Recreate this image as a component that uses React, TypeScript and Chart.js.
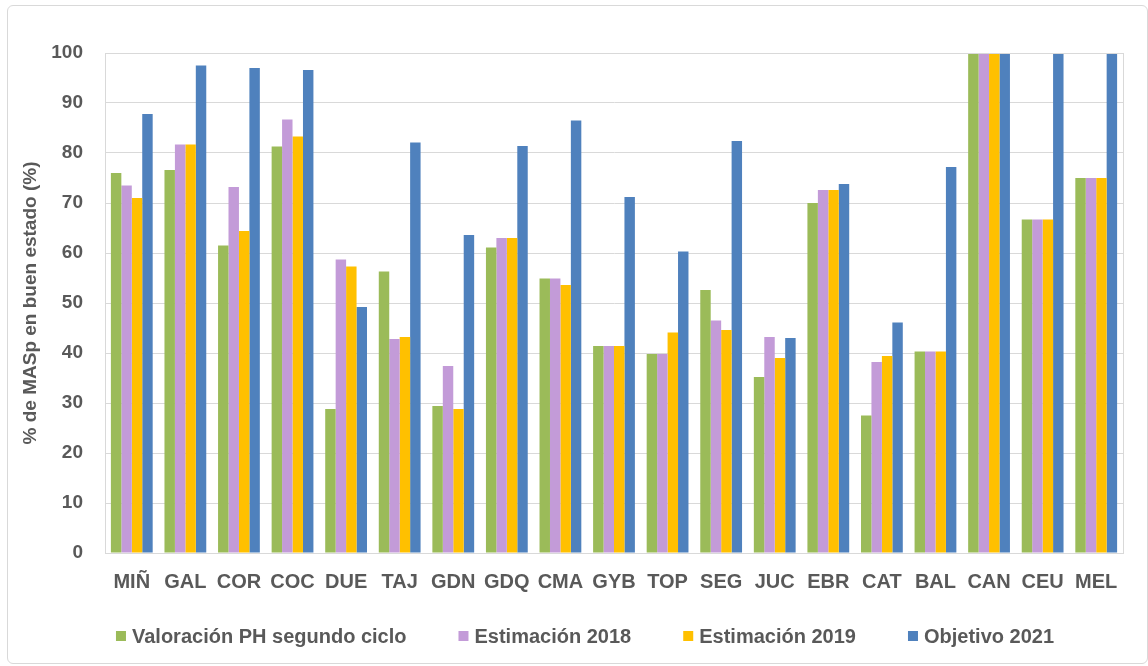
import React, { useEffect, useRef } from "react";
import { Chart, registerables } from "chart.js";

Chart.register(...registerables);

const categories = ["MIÑ", "GAL", "COR", "COC", "DUE", "TAJ", "GDN", "GDQ", "CMA", "GYB", "TOP", "SEG", "JUC", "EBR", "CAT", "BAL", "CAN", "CEU", "MEL"];
const valoracionPH = [76, 76.6, 61.5, 81.3, 28.8, 56.3, 29.4, 61.1, 54.9, 41.4, 39.8, 52.6, 35.2, 70, 27.5, 40.3, 100, 66.7, 75];
const estimacion2018 = [73.5, 81.7, 73.2, 86.7, 58.7, 42.8, 37.4, 63, 54.9, 41.4, 39.8, 46.5, 43.2, 72.6, 38.2, 40.3, 100, 66.7, 75];
const estimacion2019 = [71, 81.7, 64.4, 83.3, 57.3, 43.2, 28.8, 63, 53.6, 41.4, 44.1, 44.6, 39, 72.6, 39.4, 40.3, 100, 66.7, 75];
const objetivo2021 = [87.8, 97.5, 97, 96.6, 49.2, 82.1, 63.6, 81.4, 86.5, 71.2, 60.3, 82.4, 43, 73.8, 46.1, 77.2, 100, 100, 100];
const seriesNames = ["Valoración PH segundo ciclo", "Estimación 2018", "Estimación 2019", "Objetivo 2021"];
const yTitle = "% de MASp en buen estado (%)";

const FONT = "'Liberation Sans', Arial, sans-serif";
const TEXT = "#595959";

const frame = {
  id: "frame",
  afterDraw(chart: any) {
    const { ctx, chartArea } = chart;
    ctx.save();
    ctx.strokeStyle = "#d9d9d9";
    ctx.lineWidth = 1;
    ctx.strokeRect(chartArea.left + 0.5, chartArea.top + 0.5, chartArea.right - chartArea.left, chartArea.bottom - chartArea.top);
    ctx.restore();
  },
};

const customLegend = {
  id: "customLegend",
  afterDraw(chart: any) {
    const { ctx } = chart;
    const ds = chart.data.datasets;
    ctx.save();
    ctx.font = `bold 20px ${FONT}`;
    ctx.textBaseline = "middle";
    ctx.textAlign = "left";
    const box = 10, gapBox = 6, gap = 52;
    const widths = ds.map((d: any) => ctx.measureText(d.label).width);
    const total = widths.reduce((a: number, w: number) => a + box + gapBox + w, 0) + gap * (ds.length - 1);
    let x = 585 - total / 2;
    const y = 636;
    ds.forEach((d: any, i: number) => {
      ctx.fillStyle = d.backgroundColor;
      ctx.fillRect(x, y - box / 2, box, box);
      x += box + gapBox;
      ctx.fillStyle = TEXT;
      ctx.fillText(d.label, x, y + 1);
      x += widths[i] + gap;
    });
    ctx.restore();
  },
};

export default function App() {
  const ref = useRef<HTMLCanvasElement>(null);
  useEffect(() => {
    const colors = ["#9bbb59", "#c39bd8", "#ffc000", "#4f81bd"];
    const data = [valoracionPH, estimacion2018, estimacion2019, objetivo2021];
    const chart = new Chart(ref.current!, {
      type: "bar",
      data: {
        labels: categories,
        datasets: data.map((d, i) => ({
          label: seriesNames[i],
          data: d,
          backgroundColor: colors[i],
          borderWidth: 0,
          barPercentage: 1,
          categoryPercentage: 0.78,
        })),
      },
      options: {
        animation: false,
        responsive: false,
        maintainAspectRatio: false,
        layout: { padding: { left: 10, right: 25, top: 53, bottom: 48 } },
        plugins: {
          tooltip: { enabled: false },
          legend: { display: false },
        },
        scales: {
          x: {
            grid: { display: false, drawTicks: false },
            border: { display: true, color: "#d9d9d9" },
            ticks: { color: TEXT, font: { family: FONT, size: 20, weight: "bold" }, padding: 17, maxRotation: 0, autoSkip: false },
            afterFit(scale: any) { scale.height = 65; },
          },
          y: {
            min: 0,
            max: 100,
            ticks: { stepSize: 10, color: TEXT, font: { family: FONT, size: 19, weight: "bold" }, padding: 22 },
            grid: { color: "#d9d9d9", drawTicks: false },
            border: { display: true, color: "#d9d9d9" },
            title: { display: true, text: yTitle, color: TEXT, font: { family: FONT, size: 19, weight: "bold" }, padding: { top: 9, bottom: 0 } },
            afterFit(scale: any) { scale.width = 95; },
          },
        },
      },
      plugins: [frame, customLegend],
    });
    return () => chart.destroy();
  }, []);
  return (
    <div style={{ position: "absolute", left: 0, top: 0, width: 1148, height: 666, background: "#fff" }}>
      <div style={{ position: "absolute", left: 7, top: 5, width: 1139, height: 657, border: "1px solid #d9d9d9", borderRadius: 6 }} />
      <canvas ref={ref} width={1148} height={666} style={{ position: "absolute", left: 0, top: 0 }} />
    </div>
  );
}
